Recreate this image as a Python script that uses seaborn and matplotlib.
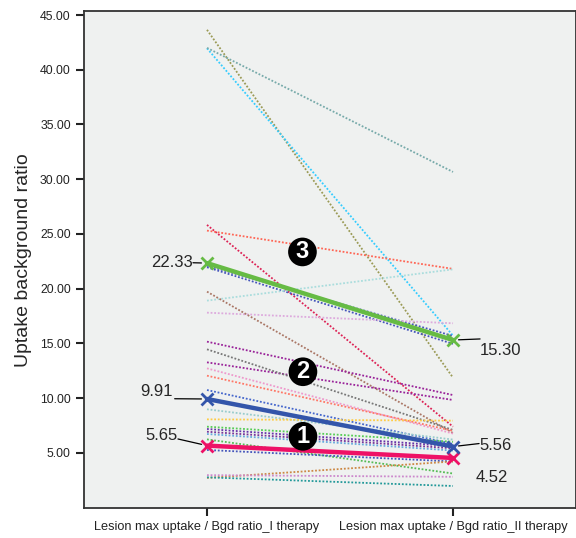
import matplotlib
matplotlib.use("Agg")
import matplotlib.pyplot as plt
import seaborn as sns
import pandas as pd

# x categories
therapy_labels = ["Lesion max uptake / Bgd ratio_I therapy",
                  "Lesion max uptake / Bgd ratio_II therapy"]

# individual lesions (dotted lines): value at I therapy, value at II therapy
lesion_I = [43.65, 41.96, 42.00, 25.82, 25.30, 22.10, 21.95, 18.90, 17.80,
            19.72, 15.15, 13.26, 14.45, 12.71, 12.04, 10.73, 8.97, 8.05,
            7.38, 7.17, 6.92, 6.71, 6.22, 5.25, 2.70, 2.75, 2.95]
lesion_II = [11.86, 15.70, 30.66, 7.38, 21.80, 15.67, 14.95, 21.76, 16.83,
             6.80, 10.27, 9.82, 7.08, 6.75, 7.00, 5.80, 6.20, 7.93,
             6.00, 5.60, 5.40, 5.20, 3.10, 4.20, 4.20, 1.96, 2.80]
lesion_colors = ["#9a9a55", "#33ccff", "#77aaaa", "#dd2255", "#ff6655",
                 "#4455bb", "#4455bb", "#aadddd", "#ddaadd", "#aa7766",
                 "#992299", "#992299", "#777777", "#ee99cc", "#ff7766",
                 "#4466cc", "#99cccc", "#ffcc44", "#55cc55", "#6633aa",
                 "#773399", "#66aadd", "#55bb55", "#4455bb", "#cc8844",
                 "#229999", "#cc88cc"]

# cluster means (thick lines)
cluster_names = ["1", "2", "3"]
cluster_I = [5.65, 9.91, 22.33]
cluster_II = [4.52, 5.56, 15.30]
cluster_colors = ["#ee1166", "#3355aa", "#66bb44"]

sns.set_theme(style="ticks")
plt.rcParams["font.family"] = ["Liberation Sans", "DejaVu Sans"]

fig = plt.figure(figsize=(5.76, 5.38), dpi=100)
ax = fig.add_axes([84 / 576, 29.7 / 538, 492 / 576, 497.3 / 538])
ax.set_facecolor("#eff1f0")

lesions = pd.DataFrame({
    "lesion": [f"L{i}" for i in range(len(lesion_I)) for _ in range(2)],
    "therapy": therapy_labels * len(lesion_I),
    "ratio": [v for pair in zip(lesion_I, lesion_II) for v in pair],
})
for i, (name, grp) in enumerate(lesions.groupby("lesion", sort=False)):
    sns.lineplot(data=grp, x="therapy", y="ratio", ax=ax, color=lesion_colors[i],
                 lw=1.3, dashes=False, linestyle=(0, (1, 1)), legend=False)

clusters = pd.DataFrame({
    "cluster": [c for c in cluster_names for _ in range(2)],
    "therapy": therapy_labels * len(cluster_names),
    "ratio": [v for pair in zip(cluster_I, cluster_II) for v in pair],
})
for i, (name, grp) in enumerate(clusters.groupby("cluster", sort=False)):
    sns.lineplot(data=grp, x="therapy", y="ratio", ax=ax, color=cluster_colors[i],
                 lw=3.2, marker="x", markersize=8, markeredgewidth=2,
                 markeredgecolor=cluster_colors[i], legend=False)

ax.set_xlim(-0.5, 1.5)
ax.set_ylim(-0.08, 45.37)
ax.set_yticks([5, 10, 15, 20, 25, 30, 35, 40, 45])
ax.set_yticklabels([f"{t:.2f}" for t in ax.get_yticks()], fontsize=8.8)
ax.set_xticks([0, 1])
ax.set_xticklabels(therapy_labels, fontsize=9.2)
ax.set_xlabel("")
ax.set_ylabel("Uptake background ratio", fontsize=14, labelpad=6)
ax.tick_params(axis="both", length=6, width=1.5, color="#222222", labelcolor="#222222")
for sp in ax.spines.values():
    sp.set_color("#333333")
    sp.set_linewidth(1.3)

# value labels with leader lines
lead = dict(arrowstyle="-", color="black", lw=0.9, patchA=None, shrinkA=0, shrinkB=4)
ax.annotate("22.33", xy=(0, cluster_I[2]), xytext=(-0.057, 22.43), ha="right", va="center",
            fontsize=12, arrowprops=dict(lead, relpos=(1, 0.45)))
ax.annotate("9.91", xy=(0, cluster_I[1]), xytext=(-0.138, 10.55), ha="right", va="center",
            fontsize=12, arrowprops=dict(lead, relpos=(1.05, 0.05)))
ax.annotate("5.65", xy=(0, cluster_I[0]), xytext=(-0.118, 6.53), ha="right", va="center",
            fontsize=12, arrowprops=dict(lead, relpos=(1, 0.3)))
ax.annotate("15.30", xy=(1, cluster_II[2]), xytext=(1.11, 14.3), ha="left", va="center",
            fontsize=12, arrowprops=dict(lead, relpos=(0, 1.3)))
ax.annotate("5.56", xy=(1, cluster_II[1]), xytext=(1.106, 5.7), ha="left", va="center",
            fontsize=12, arrowprops=dict(lead, relpos=(0, 0.6)))
ax.text(1.094, 2.78, "4.52", ha="left", va="center", fontsize=12)

# cluster number badges
for lab, (bx, by) in zip(cluster_names, [(0.39, 6.50), (0.39, 12.40), (0.388, 23.35)]):
    ax.text(bx, by, lab, ha="center", va="center", color="white", fontsize=17,
            fontweight="bold",
            bbox=dict(boxstyle="circle,pad=0.12", fc="black", ec="none"))

fig.savefig("out.png", dpi=100)
